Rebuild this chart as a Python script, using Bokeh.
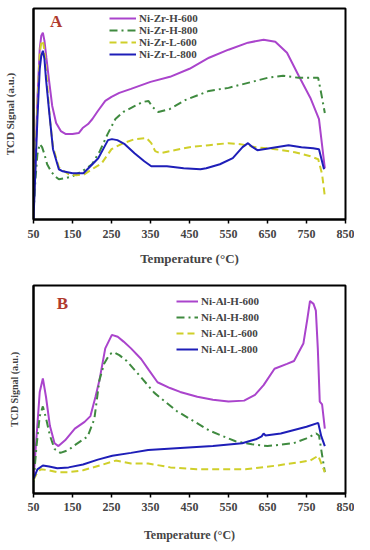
from bokeh.plotting import figure
from bokeh.layouts import column
from bokeh.models import Legend, LegendItem, Label
from bokeh.embed import file_html
from bokeh.resources import INLINE

# ---------------- Data (Panel A: Ni-Zr) ----------------
zr_h600_T = [50, 55, 60, 66, 70, 74, 78, 83, 90, 98, 108, 120, 133, 150, 166, 176, 190, 201, 215, 234, 250, 270,
             300, 350, 400, 450, 500, 550, 600, 640, 670, 700, 730, 760, 782, 797]
zr_h600_S = [5, 60, 120, 170, 183, 186, 178, 161, 138, 113, 96, 88, 85, 85, 86, 91, 95, 100, 108, 118, 122, 126,
             130, 137, 142, 150, 161, 169, 176, 179, 177, 166, 143, 121, 100, 51]

zr_h800_T = [50, 55, 60, 66, 72, 78, 85, 95, 105, 115, 130, 150, 175, 200, 220, 240, 260, 280, 310, 330, 345, 355,
             370, 400, 440, 500, 550, 600, 650, 690, 730, 780, 788, 797]
zr_h800_S = [5, 40, 65, 75, 72, 65, 55, 48, 43, 40, 41, 43, 48, 55, 68, 85, 100, 107, 113, 117, 118, 112,
             107, 110, 119, 128, 131, 136, 141, 143, 141, 141, 125, 106]

zr_l600_T = [50, 55, 60, 66, 70, 74, 78, 84, 92, 100, 115, 140, 160, 180, 200, 225, 250, 280, 310, 340, 352, 362,
             375, 400, 450, 500, 550, 580, 620, 670, 720, 760, 780, 790, 797]
zr_l600_S = [5, 60, 115, 165, 176, 178, 168, 140, 100, 72, 52, 45, 44, 45, 50, 56, 70, 76, 80, 81, 76, 68,
             66, 68, 72, 74, 76, 75, 72, 70, 67, 63, 60, 45, 23]

zr_l800_T = [50, 55, 60, 66, 70, 74, 78, 82, 90, 100, 115, 125, 150, 178, 201, 216, 241, 251, 265, 284, 309, 334,
             352, 392, 435, 478, 493, 528, 561, 586, 600, 612, 624, 656, 704, 737, 767, 782, 795]
zr_l800_S = [0, 50, 100, 150, 163, 168, 160, 140, 108, 70, 50, 48, 46, 46, 55, 61, 79, 80, 79, 75, 66, 58,
             53, 53, 51, 50, 51, 55, 61, 72, 76, 72, 69, 71, 74, 72, 71, 70, 50]

# ---------------- Data (Panel B: Ni-Al) ----------------
al_h600_T = [50, 58, 66, 74, 82, 92, 104, 114, 131, 156, 181, 196, 209, 219, 234, 251, 266, 281, 300, 326, 345,
             368, 400, 426, 470, 510, 550, 590, 618, 640, 668, 700, 718, 742, 752, 759, 768, 774, 779, 784, 790, 797]
al_h600_S = [15, 60, 105, 119, 100, 70, 52, 49, 55, 67, 74, 80, 100, 117, 150, 164, 162, 157, 150, 139, 128,
             115, 109, 105, 100, 97, 95, 96, 102, 112, 129, 134, 137, 155, 180, 199, 196, 189, 150, 95, 92, 67]

al_h800_T = [50, 58, 66, 74, 82, 92, 104, 119, 140, 156, 189, 206, 219, 231, 245, 256, 270, 289, 326, 360, 418,
             460, 501, 568, 610, 650, 717, 750, 775, 782, 797]
al_h800_S = [12, 50, 80, 90, 78, 60, 46, 42, 45, 50, 59, 77, 117, 134, 144, 146, 143, 137, 120, 104, 85,
             75, 65, 54, 51, 49, 52, 57, 62, 60, 22]

al_l600_T = [50, 60, 69, 90, 111, 140, 177, 220, 261, 276, 300, 344, 401, 468, 593, 676, 759, 780, 797]
al_l600_S = [14, 22, 25, 24, 22, 22, 24, 29, 34, 33, 31, 31, 27, 25, 25, 29, 34, 39, 22]

al_l800_T = [50, 60, 74, 90, 111, 140, 177, 215, 252, 300, 344, 426, 510, 585, 620, 635, 640, 645, 684, 750,
             780, 788, 797]
al_l800_S = [15, 25, 29, 28, 26, 27, 30, 35, 39, 42, 45, 47, 49, 52, 56, 59, 62, 60, 62, 69, 73, 59, 49]

x_ticks = [50, 150, 250, 350, 450, 550, 650, 750, 850]
labels_A = ["Ni-Zr-H-600", "Ni-Zr-H-800", "Ni-Zr-L-600", "Ni-Zr-L-800"]
labels_B = ["Ni-Al-H-600", "Ni-Al-H-800", "Ni-Al-L-600", "Ni-Al-L-800"]

COLORS = ["#aa44cc", "#3f8a3f", "#cfcf2a", "#1e1eb8"]
DASHES = ["solid", "8 4 2 4", "7 4", "solid"]
FONT = "Liberation Serif"


def make_panel(series, labels, height, mb_left, mb_right, mb_top, mb_bottom, y_max,
               legend_loc, legend_font, row_h, glyph_w, tag, tag_x, tag_y, ylabel_standoff, ylabel_size,
               xlabel_size, xlabel_standoff, tick_standoff):
    p = figure(width=354, height=height, x_range=(50, 850), y_range=(0, y_max),
               output_backend="svg", toolbar_location=None,
               min_border_left=mb_left, min_border_right=mb_right,
               min_border_top=mb_top, min_border_bottom=mb_bottom)
    p.background_fill_color = "white"
    p.border_fill_color = "white"
    p.outline_line_color = "black"
    p.outline_line_width = 2
    p.xgrid.visible = False
    p.ygrid.visible = False

    renderers = []
    for (T, S), c, d in zip(series, COLORS, DASHES):
        r = p.line(T, S, line_color=c, line_width=2, line_dash=d)
        renderers.append(r)

    xa = p.xaxis[0]
    xa.ticker = x_ticks
    xa.axis_label = "Temperature (°C)"
    xa.axis_label_text_font = FONT
    xa.axis_label_text_font_style = "bold"
    xa.axis_label_text_font_size = xlabel_size
    xa.axis_label_standoff = xlabel_standoff
    xa.major_label_text_font = FONT
    xa.major_label_text_font_style = "bold"
    xa.major_label_text_font_size = "12px"
    xa.major_label_standoff = tick_standoff
    xa.major_tick_out = 4
    xa.major_tick_in = 0
    xa.minor_tick_line_color = None
    xa.axis_line_width = 2
    xa.major_tick_line_width = 1.5

    ya = p.yaxis[0]
    ya.ticker = []
    ya.axis_label = "TCD Signal (a.u.)"
    ya.axis_label_text_font = FONT
    ya.axis_label_text_font_style = "bold"
    ya.axis_label_text_font_size = ylabel_size
    ya.axis_label_standoff = ylabel_standoff
    ya.major_tick_out = 0
    ya.major_tick_in = 0
    ya.minor_tick_line_color = None
    ya.axis_line_width = 2

    items = [LegendItem(label=l, renderers=[r]) for l, r in zip(labels, renderers)]
    legend = Legend(items=items, location=legend_loc,
                    label_text_font=FONT, label_text_font_style="bold",
                    label_text_font_size=legend_font,
                    label_height=row_h, glyph_height=row_h, glyph_width=glyph_w,
                    label_standoff=3, spacing=0, padding=2, margin=0,
                    background_fill_alpha=0, border_line_alpha=0)
    p.add_layout(legend, "center")

    p.add_layout(Label(x=tag_x, y=tag_y, text=tag, text_font=FONT, text_font_style="bold",
                       text_font_size="17px", text_color="#b03a2e",
                       text_align="center", text_baseline="middle"))
    return p


pA = make_panel(
    [(zr_h600_T, zr_h600_S), (zr_h800_T, zr_h800_S), (zr_l600_T, zr_l600_S), (zr_l800_T, zr_l800_S)],
    labels_A, height=268, mb_left=29, mb_right=7, mb_top=8, mb_bottom=49, y_max=210,
    legend_loc=(74, 157), legend_font="11px", row_h=12, glyph_w=27,
    tag="A", tag_x=108, tag_y=197, ylabel_standoff=18, ylabel_size="11px",
    xlabel_size="13px", xlabel_standoff=10, tick_standoff=6)

pB = make_panel(
    [(al_h600_T, al_h600_S), (al_h800_T, al_h800_S), (al_l600_T, al_l600_S), (al_l800_T, al_l800_S)],
    labels_B, height=276, mb_left=24, mb_right=9, mb_top=17, mb_bottom=49, y_max=215,
    legend_loc=(141, 134), legend_font="11px", row_h=16, glyph_w=22,
    tag="B", tag_x=124, tag_y=196, ylabel_standoff=14, ylabel_size="10px",
    xlabel_size="12px", xlabel_standoff=14, tick_standoff=5)

layout = column(pA, pB, spacing=0)
open("out.html", "w").write(file_html(layout, INLINE))
